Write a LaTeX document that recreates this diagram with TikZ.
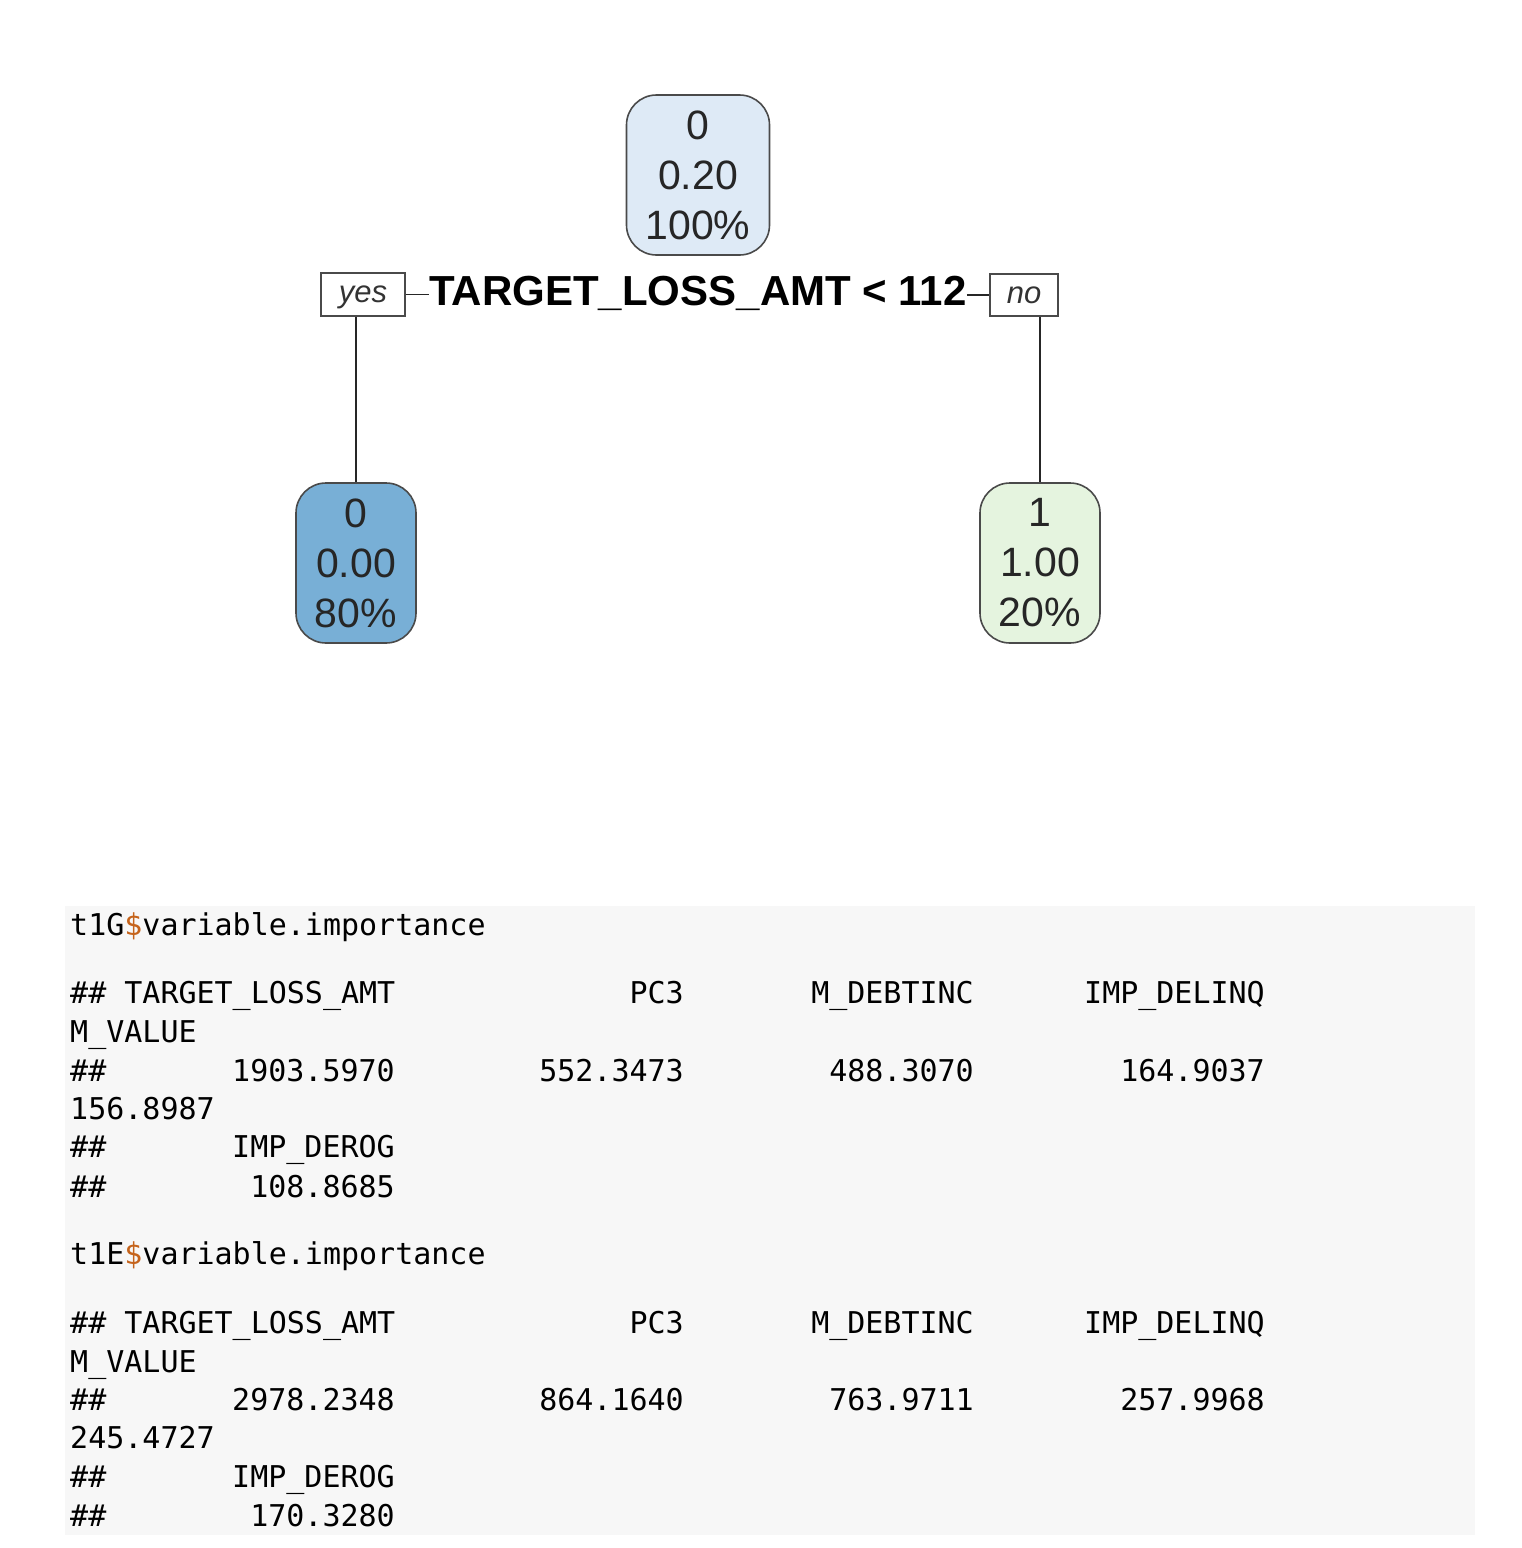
\documentclass[tikz,border=0pt]{standalone}
\usepackage{fontspec}
\setmainfont{Liberation Sans}
\newfontfamily\codefont{DejaVu Sans Mono}
\definecolor{codebg}{HTML}{F7F7F7}
\definecolor{dollar}{HTML}{C5631B}
\definecolor{nodeA}{HTML}{DEEAF6}
\definecolor{nodeB}{HTML}{78AFD6}
\definecolor{nodeC}{HTML}{E5F4DF}
\definecolor{edge}{HTML}{4A4A4A}
\tikzset{
  leaf/.style={draw=edge, line width=1.6pt, rounded corners=30pt, align=center,
    font=\fontsize{41}{50}\selectfont, text=black!85, inner sep=0pt},
  lbl/.style={draw=edge, line width=1.4pt, inner sep=0pt, text depth=0pt, font=\fontsize{31}{31}\selectfont\itshape, text=black!80},
  conn/.style={draw=black!85, line width=1.4pt},
  code/.style={font=\codefont\fontsize{30}{30}\selectfont, inner sep=0pt, anchor=base west},
  coder/.style={font=\codefont\fontsize{30}{30}\selectfont, inner sep=0pt, anchor=base east}
}
\begin{document}
\begin{tikzpicture}[x=1pt,y=-1pt]
\useasboundingbox (0,0) rectangle (1522,1548);
% tree
\node[leaf, fill=nodeA, minimum width=143pt, minimum height=160pt] (root) at (698,175) {0\\0.20\\100\%};
\node[font=\fontsize{42}{42}\selectfont\bfseries, inner sep=0pt] (split) at (698,293) {TARGET\_LOSS\_AMT < 112};
\node[lbl, minimum width=84pt, minimum height=43pt] (yes) at (363,294.5) {yes};
\node[lbl, minimum width=68pt, minimum height=42pt] (no) at (1024,295) {no};
\node[leaf, fill=nodeB, minimum width=120pt, minimum height=160pt] (left) at (356,563) {0\\0.00\\80\%};
\node[leaf, fill=nodeC, minimum width=120pt, minimum height=160pt] (right) at (1040,563) {1\\1.00\\20\%};
\draw[conn] (yes.east) -- (yes.east -| split.west);
\draw[conn] (no.west -| split.east) -- (no.west);
\draw[conn] (yes.south -| left.north) -- (left.north);
\draw[conn] (no.south -| right.north) -- (right.north);
% code block
\fill[codebg] (65,906) rectangle (1475,1535);
\node[code] (g0) at (70,935) {t1G\textcolor{dollar}{\$}variable.importance};
\node[code] (g1) at (70,1003) {\#\# TARGET\_LOSS\_AMT};
\node[coder] (g1b) at (684,1003) {PC3};
\node[coder] (g1c) at (974,1003) {M\_DEBTINC};
\node[coder] (g1d) at (1265,1003) {IMP\_DELINQ};
\node[code] (g2) at (70,1042) {M\_VALUE};
\node[code] (g3) at (70,1081) {\#\#};
\node[coder] (g3a) at (395,1081) {1903.5970};
\node[coder] (g3b) at (684,1081) {552.3473};
\node[coder] (g3c) at (974,1081) {488.3070};
\node[coder] (g3d) at (1265,1081) {164.9037};
\node[code] (g4) at (70,1119) {156.8987};
\node[code] (g5) at (70,1157) {\#\#};
\node[coder] (g5a) at (395,1157) {IMP\_DEROG};
\node[code] (g6) at (70,1197) {\#\#};
\node[coder] (g6a) at (395,1197) {108.8685};
%
\node[code] (e0) at (70,1264) {t1E\textcolor{dollar}{\$}variable.importance};
\node[code] (e1) at (70,1333) {\#\# TARGET\_LOSS\_AMT};
\node[coder] (e1b) at (684,1333) {PC3};
\node[coder] (e1c) at (974,1333) {M\_DEBTINC};
\node[coder] (e1d) at (1265,1333) {IMP\_DELINQ};
\node[code] (e2) at (70,1372) {M\_VALUE};
\node[code] (e3) at (70,1410) {\#\#};
\node[coder] (e3a) at (395,1410) {2978.2348};
\node[coder] (e3b) at (684,1410) {864.1640};
\node[coder] (e3c) at (974,1410) {763.9711};
\node[coder] (e3d) at (1265,1410) {257.9968};
\node[code] (e4) at (70,1448) {245.4727};
\node[code] (e5) at (70,1487) {\#\#};
\node[coder] (e5a) at (395,1487) {IMP\_DEROG};
\node[code] (e6) at (70,1526) {\#\#};
\node[coder] (e6a) at (395,1526) {170.3280};
\end{tikzpicture}
\end{document}
